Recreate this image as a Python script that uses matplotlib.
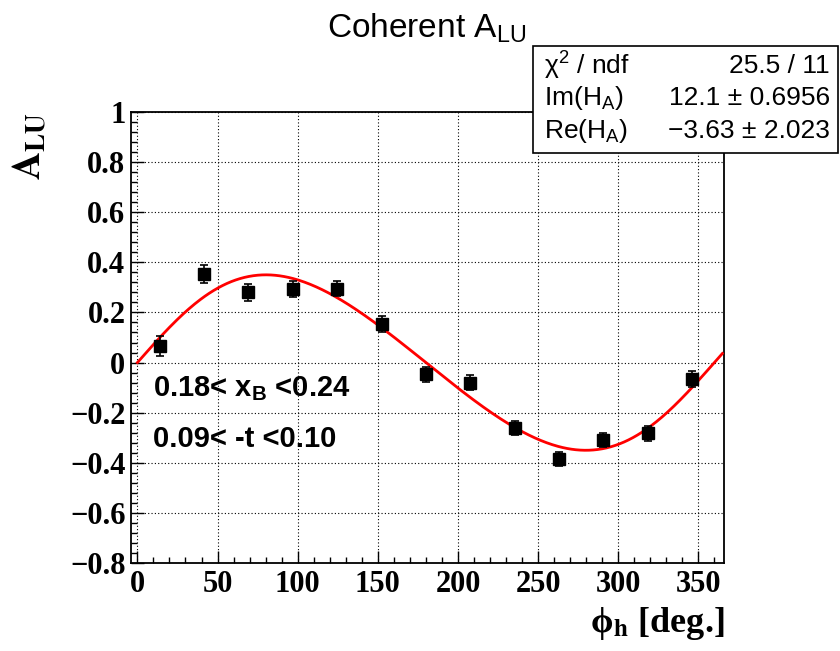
import numpy as np
import matplotlib
matplotlib.use("Agg")
import matplotlib.pyplot as plt
from matplotlib.patches import Rectangle
from matplotlib.ticker import MultipleLocator

plt.rcParams["mathtext.fontset"] = "custom"
plt.rcParams["mathtext.rm"] = "Liberation Sans"
plt.rcParams["mathtext.it"] = "Liberation Sans:italic"
plt.rcParams["mathtext.bf"] = "Liberation Sans:bold"

# binned A_LU measurement (13 bins in phi_h)
phi_h = [13.85, 41.54, 69.23, 96.92, 124.62, 152.31, 180.0,
         207.69, 235.38, 263.08, 290.77, 318.46, 346.15]
a_lu = [0.066, 0.354, 0.280, 0.294, 0.294, 0.154, -0.046,
        -0.080, -0.260, -0.386, -0.309, -0.282, -0.066]
a_lu_err = [0.039, 0.037, 0.035, 0.033, 0.030, 0.031, 0.030,
            0.029, 0.028, 0.028, 0.028, 0.030, 0.033]

# fit result: A_LU = a sin(phi) / (1 + b cos(phi))
fit_a = 0.345
fit_b = -0.17
fit_range = (0.0, 365.0)

stats_names = ["\u03c7$^2$ / ndf", "Im(H$_{\\rm A}$)", "Re(H$_{\\rm A}$)"]
stats_values = ["25.5 / 11", "12.1 \u00b1 0.6956", "\u22123.63 \u00b1 2.023"]

W, H = 840, 651
fig = plt.figure(figsize=(8.4, 6.51), dpi=100)


def fx(px):
    return px / W


def fy(py):
    return 1 - py / H


ax = fig.add_axes([fx(131), fy(563), fx(724) - fx(131), fy(112) - fy(563)])

ax.errorbar(phi_h, a_lu, yerr=a_lu_err, fmt="s", color="black", ms=8,
            ecolor="black", elinewidth=1.2, capsize=3, capthick=1.2, zorder=4)

xf = np.linspace(fit_range[0], fit_range[1], 400)
rad = np.radians(xf)
ax.plot(xf, fit_a * np.sin(rad) / (1 + fit_b * np.cos(rad)), color="red", lw=2, zorder=3)

ax.set_xlim(-4, 366)
ax.set_ylim(-0.8, 1.0)
ax.xaxis.set_major_locator(MultipleLocator(50))
ax.xaxis.set_minor_locator(MultipleLocator(10))
ax.yaxis.set_major_locator(MultipleLocator(0.2))
ax.yaxis.set_minor_locator(MultipleLocator(0.04))
ax.grid(True, which="major", color="black", ls=(0, (1, 2)), lw=0.8)

ax.tick_params(which="both", direction="in", top=False, right=False)
ax.tick_params(which="major", length=9, width=1)
ax.tick_params(which="minor", length=4.5, width=1)
ax.tick_params(axis="x", pad=5)
ax.tick_params(axis="y", pad=4)
ax.yaxis.set_major_formatter(plt.FuncFormatter(
    lambda v, p: "0" if abs(v) < 1e-9 else ("1" if abs(v - 1) < 1e-9 else f"{v:.1f}".replace("-", "\u2212"))))
for lab in ax.get_xticklabels() + ax.get_yticklabels():
    lab.set_fontfamily("Liberation Serif")
    lab.set_fontweight("bold")
    lab.set_fontsize(22)
for s in ax.spines.values():
    s.set_linewidth(1.3)

# bin limits
fig.text(fx(153), fy(389), r"0.18< x$_\mathbf{B}$ <0.24", fontfamily="Liberation Sans",
         fontweight="bold", fontsize=21, va="center", ha="left")
fig.text(fx(153), fy(439), "0.09< -t <0.10", fontfamily="Liberation Sans",
         fontweight="bold", fontsize=21, va="center", ha="left")

# axis titles
fig.text(fx(30), fy(146), r"$\mathbf{A_{LU}}$", rotation=90, fontsize=28,
         math_fontfamily="stix", ha="center", va="center")
fig.text(fx(724), fy(624), "\u03d5$_\\mathbf{h}$ [deg.]", fontsize=26,
         fontfamily="Liberation Serif", fontweight="bold",
         math_fontfamily="stix", ha="right", va="center")

# title
fig.text(fx(427), fy(28), r"Coherent A$_{\rm LU}$", fontfamily="Liberation Sans",
         fontsize=24, ha="center", va="center")

# stats box
fig.patches.append(Rectangle((fx(533), fy(153)), fx(838) - fx(533), fy(46) - fy(153),
                             transform=fig.transFigure, facecolor="white",
                             edgecolor="black", lw=1.2, zorder=5))
row_y = [66, 98, 131]
for name, val, py in zip(stats_names, stats_values, row_y):
    fig.text(fx(544), fy(py), name, fontfamily="Liberation Sans", fontsize=19,
             ha="left", va="center", zorder=6)
    fig.text(fx(830), fy(py), val, fontfamily="Liberation Sans", fontsize=19,
             ha="right", va="center", zorder=6)

fig.savefig("out.png", dpi=100)
